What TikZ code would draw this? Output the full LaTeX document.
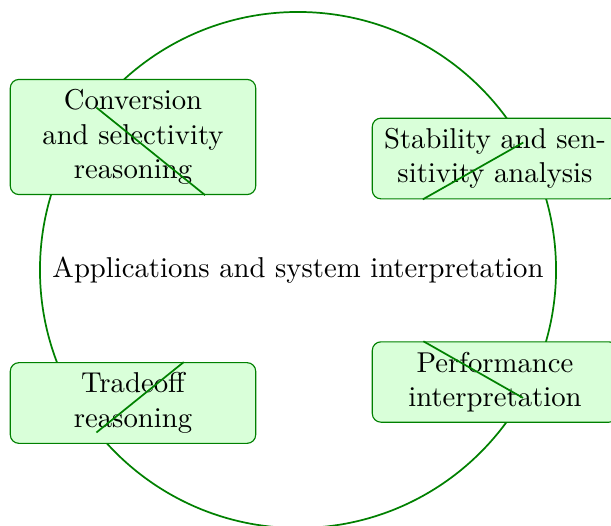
\documentclass[tikz,border=0pt]{standalone}
\begin{document}
\begin{tikzpicture}[x=0.3484pt,y=-0.3484pt,
  hub/.style={circle,draw=green!50!black,semithick,minimum size=179.8pt,inner sep=0pt,font=\normalsize},
  leaf/.style={rectangle,rounded corners=3pt,draw=green!50!black,fill=green!15,thin,text width=78.5pt,align=center,inner sep=3.5pt},
  link/.style={draw=green!50!black,semithick}]
\useasboundingbox (0,0) rectangle (611,525);
\node[hub] (c) at (298,270) {Applications and system interpretation};
\node[leaf] (b1) at (133,137) {Conversion and selectivity reasoning};
\node[leaf] (b2) at (495,158.5) {Stability and sen-\\sitivity analysis};
\node[leaf] (b3) at (133,403) {Tradeoff reasoning};
\node[leaf] (b4) at (495,382) {Performance interpretation};
\draw[link] (c) -- (b1);
\draw[link] (c) -- (b2);
\draw[link] (c) -- (b3);
\draw[link] (c) -- (b4);
\end{tikzpicture}
\end{document}
